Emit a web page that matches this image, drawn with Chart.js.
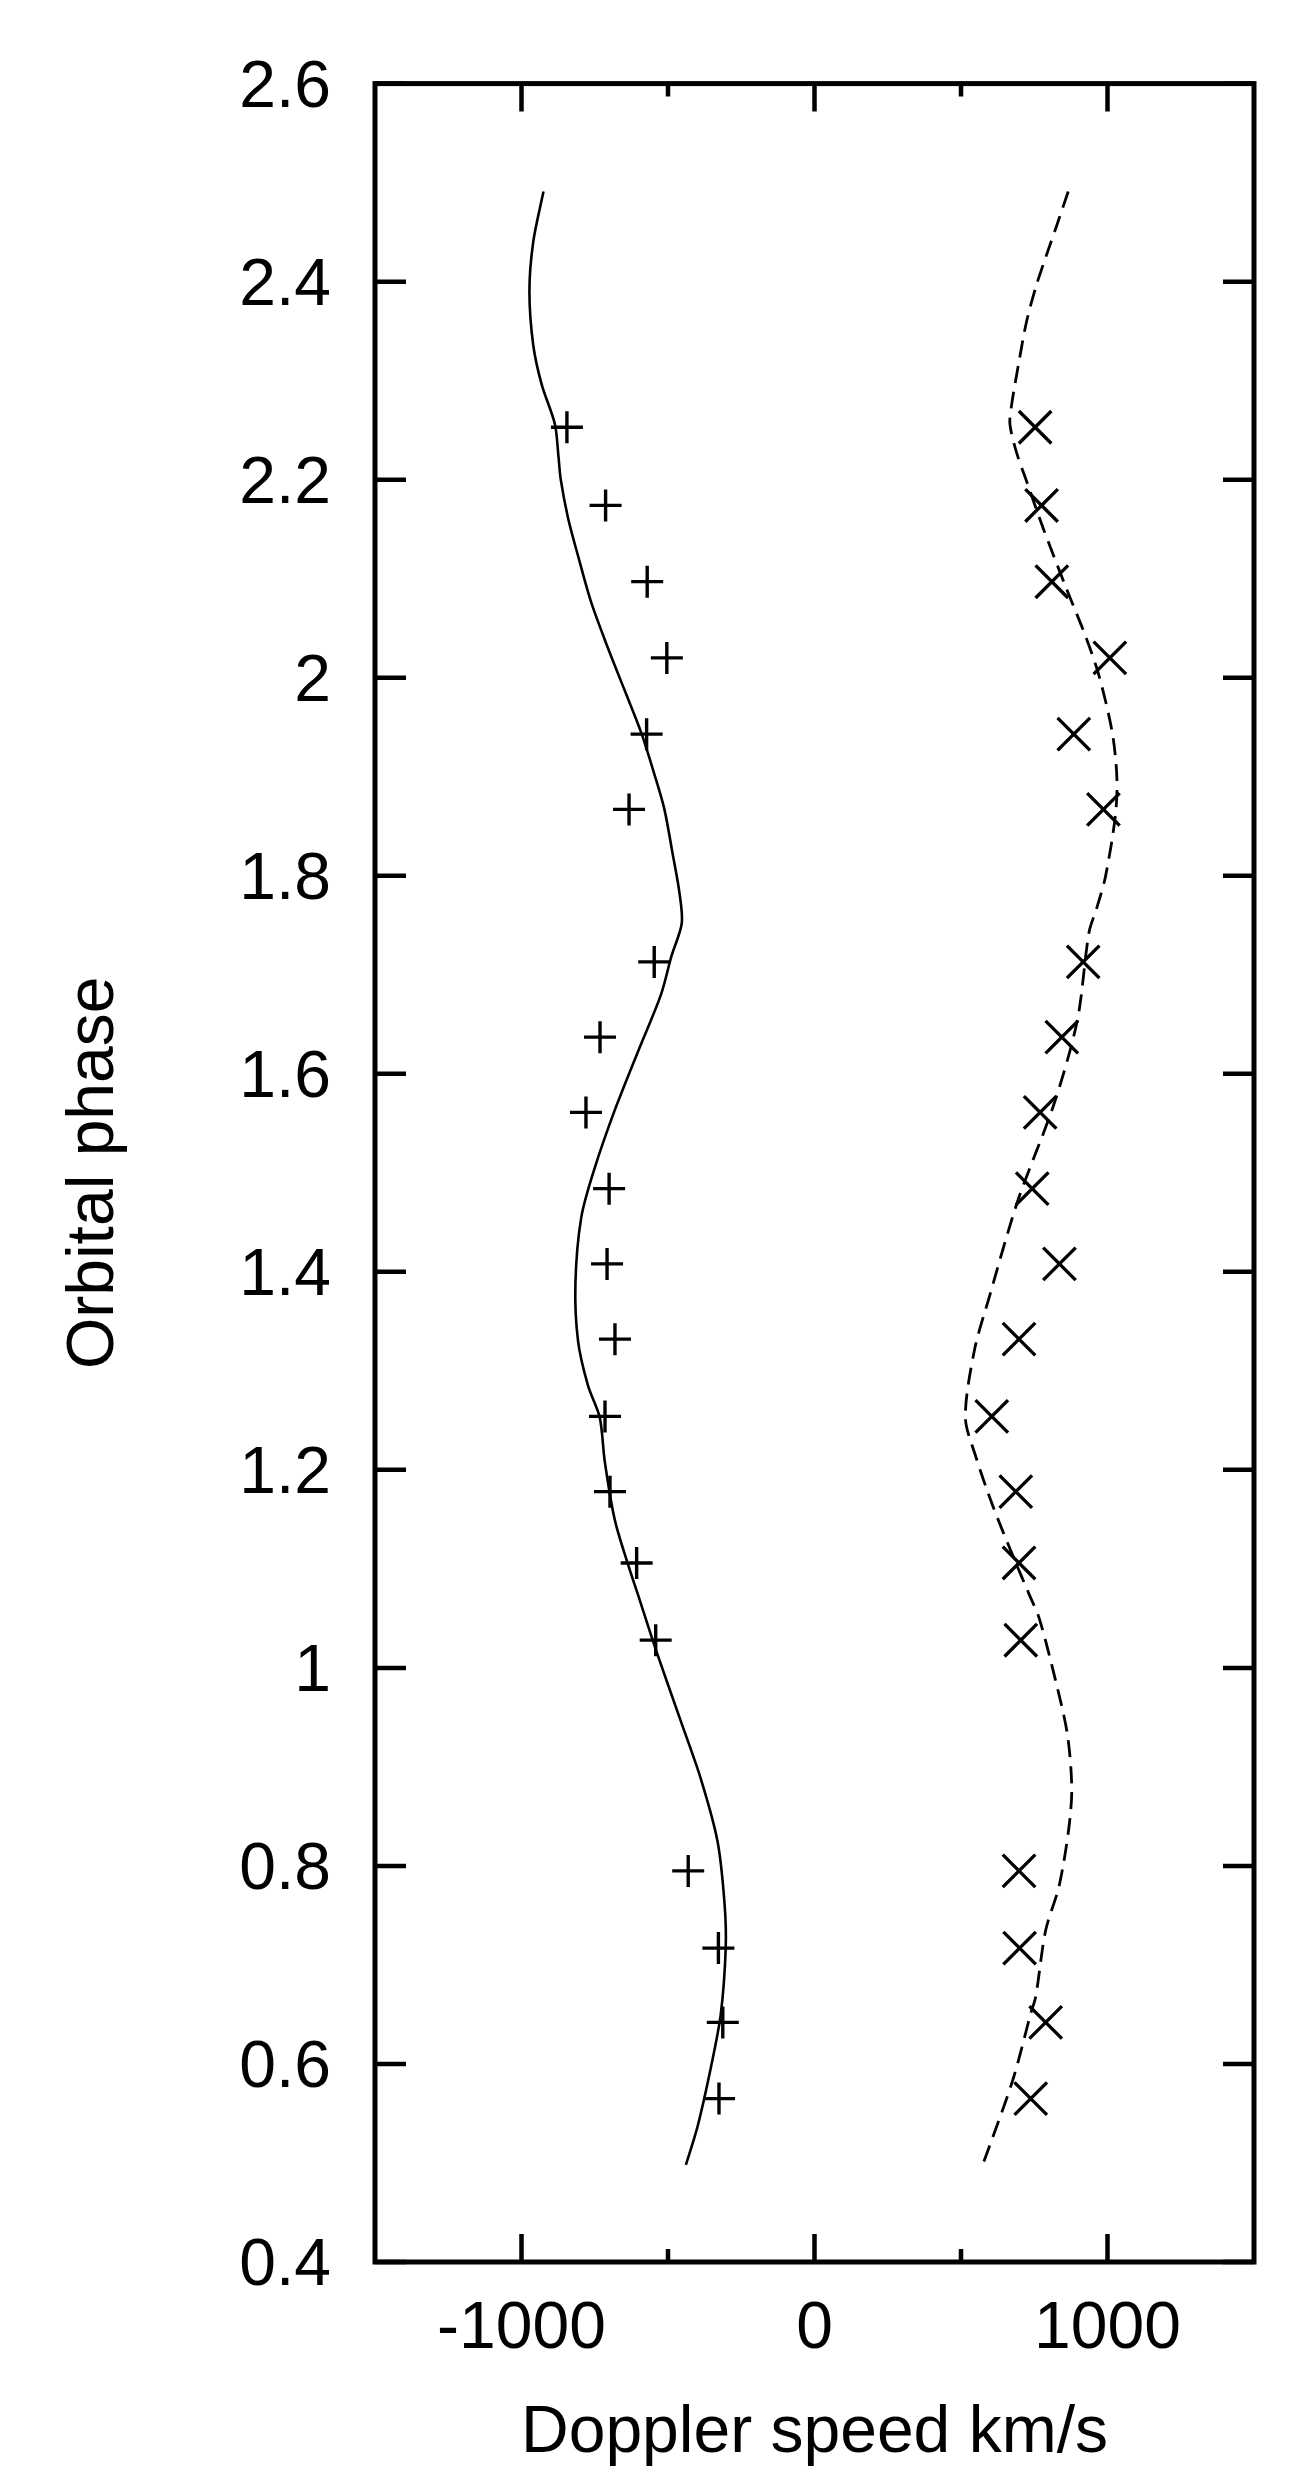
<!DOCTYPE html>
<html>
<head>
<meta charset="utf-8">
<script src="https://cdn.jsdelivr.net/npm/chart.js@4/dist/chart.umd.min.js"></script>
<style>
  body { margin: 0; background: #fff; }
</style>
</head>
<body>
<canvas id="grafico" width="1300" height="2488"></canvas>
<script>
// fases orbitales de las observaciones (comunes a las dos series)
let fases = [2.253, 2.174, 2.097, 2.020, 1.943, 1.867, 1.713, 1.637, 1.561, 1.484,
             1.408, 1.332, 1.254, 1.178, 1.106, 1.028, 0.795, 0.717, 0.642, 0.565];
// velocidades medidas (km/s)
let velMas = [-845, -713, -571, -504, -573, -633, -547, -732, -780, -701,
              -708, -681, -715, -698, -607, -542, -431, -328, -313, -326];
let velX = [753, 775, 810, 1008, 885, 986, 917, 844, 770, 743,
            836, 698, 605, 687, 698, 704, 698, 700, 789, 738];

// curva continua (modelo 1)
let curvaFase1 = [2.491, 2.44, 2.39, 2.336, 2.296, 2.256, 2.224, 2.200, 2.161, 2.123,
                  2.076, 2.030, 1.988, 1.945, 1.903, 1.868, 1.822, 1.783, 1.752, 1.719,
                  1.680, 1.622, 1.563, 1.505, 1.455, 1.388, 1.330, 1.285, 1.253, 1.209,
                  1.150, 1.105, 1.069, 1.018, 0.946, 0.888, 0.825, 0.762, 0.717, 0.650,
                  0.596, 0.537, 0.498];
let curvaVel1 = [-925, -960, -973, -960, -931, -886, -874, -866, -841, -807,
                 -762, -705, -649, -592, -547, -513, -484, -461, -453, -488,
                 -524, -603, -682, -750, -796, -816, -807, -773, -733, -716,
                 -682, -637, -597, -541, -456, -388, -331, -307, -303, -320,
                 -354, -399, -439];

// curva discontinua (modelo 2)
let curvaFase2 = [2.491, 2.457, 2.427, 2.397, 2.36, 2.316, 2.276, 2.256, 2.227, 2.200,
                  2.153, 2.092, 2.042, 2.003, 1.945, 1.899, 1.861, 1.799, 1.768, 1.743,
                  1.654, 1.570, 1.471, 1.375, 1.321, 1.253, 1.213, 1.164, 1.114, 1.074,
                  1.050, 0.987, 0.933, 0.879, 0.838, 0.780, 0.735, 0.668, 0.652, 0.583,
                  0.498];
let curvaVel2 = [866, 827, 792, 758, 724, 696, 673, 667, 690, 722,
                 778, 857, 925, 970, 1016, 1032, 1027, 993, 964, 937,
                 897, 818, 693, 597, 546, 515, 551, 608, 676, 733,
                 767, 823, 863, 878, 868, 835, 789, 755, 739, 676,
                 574];

// ejes
let xTicks = [-1000, 0, 1000];
let xTicksMenores = [-500, 500];
let yTicks = [0.4, 0.6, 0.8, 1, 1.2, 1.4, 1.6, 1.8, 2, 2.2, 2.4, 2.6];
let yEtiquetas = ["0.4", "0.6", "0.8", "1", "1.2", "1.4", "1.6", "1.8", "2", "2.2", "2.4", "2.6"];

function puntos(xs, ys) {
    return xs.map((v, i) => ({ x: v, y: ys[i] }));
}

// marco y marcas hacia adentro, como en el original
const marcoPlugin = {
    id: "marco",
    afterDatasetsDraw(chart) {
        const ctx = chart.ctx;
        const a = chart.chartArea;
        const sx = chart.scales.x, sy = chart.scales.y;
        ctx.save();
        ctx.strokeStyle = "#000";
        ctx.lineWidth = 4.5;
        ctx.lineCap = "butt";
        ctx.beginPath();
        yTicks.forEach(v => {
            let py = sy.getPixelForValue(v);
            ctx.moveTo(a.left, py); ctx.lineTo(a.left + 31, py);
            ctx.moveTo(a.right, py); ctx.lineTo(a.right - 31, py);
        });
        xTicks.forEach(v => {
            let px = sx.getPixelForValue(v);
            ctx.moveTo(px, a.bottom); ctx.lineTo(px, a.bottom - 28);
            ctx.moveTo(px, a.top); ctx.lineTo(px, a.top + 28);
        });
        xTicksMenores.forEach(v => {
            let px = sx.getPixelForValue(v);
            ctx.moveTo(px, a.bottom); ctx.lineTo(px, a.bottom - 13);
            ctx.moveTo(px, a.top); ctx.lineTo(px, a.top + 13);
        });
        ctx.stroke();
        ctx.lineWidth = 5;
        ctx.strokeRect(a.left, a.top, a.right - a.left, a.bottom - a.top);
        ctx.restore();
    }
};

Chart.defaults.font.family = "'Liberation Sans', Arial, Helvetica, sans-serif";
Chart.defaults.color = "#000";

let ctx = document.getElementById("grafico").getContext("2d");

let grafico = new Chart(ctx, {
    type: "scatter",
    data: {
        datasets: [
            {
                type: "line",
                data: puntos(curvaVel1, curvaFase1),
                borderColor: "#000",
                borderWidth: 2.6,
                pointRadius: 0,
                tension: 0.3,
                fill: false
            },
            {
                type: "line",
                data: puntos(curvaVel2, curvaFase2),
                borderColor: "#000",
                borderWidth: 2.8,
                borderDash: [17, 9],
                pointRadius: 0,
                tension: 0.3,
                fill: false
            },
            {
                data: puntos(velMas, fases),
                pointStyle: "cross",
                pointRadius: 16,
                pointBorderWidth: 3.4,
                borderColor: "#000",
                backgroundColor: "#000"
            },
            {
                data: puntos(velX, fases),
                pointStyle: "crossRot",
                pointRadius: 23,
                pointBorderWidth: 3.4,
                borderColor: "#000",
                backgroundColor: "#000"
            }
        ]
    },
    options: {
        responsive: false,
        animation: false,
        layout: { padding: { top: 75, right: 46, bottom: 0, left: 0 } },
        plugins: {
            legend: { display: false },
            tooltip: { enabled: false }
        },
        scales: {
            x: {
                type: "linear",
                min: -1500,
                max: 1500,
                grid: { display: false, drawTicks: false },
                border: { display: false },
                afterBuildTicks: s => { s.ticks = xTicks.map(v => ({ value: v })); },
                afterFit: s => { s.height = 226; },
                ticks: {
                    padding: 28,
                    font: { size: 66 },
                    callback: v => String(v)
                },
                title: {
                    display: true,
                    text: "Doppler speed km/s",
                    font: { size: 66 },
                    padding: { top: 0, bottom: 15 }
                }
            },
            y: {
                type: "linear",
                min: 0.4,
                max: 2.6,
                grid: { display: false, drawTicks: false },
                border: { display: false },
                afterBuildTicks: s => { s.ticks = yTicks.map(v => ({ value: v })); },
                afterFit: s => { s.width = 375; },
                ticks: {
                    padding: 44,
                    labelOffset: 5,
                    font: { size: 66 },
                    callback: (v, i) => yEtiquetas[i]
                },
                title: {
                    display: true,
                    text: "Orbital phase",
                    font: { size: 66 },
                    padding: { top: 55, bottom: 0 }
                }
            }
        }
    },
    plugins: [marcoPlugin]
});
</script>
</body>
</html>
